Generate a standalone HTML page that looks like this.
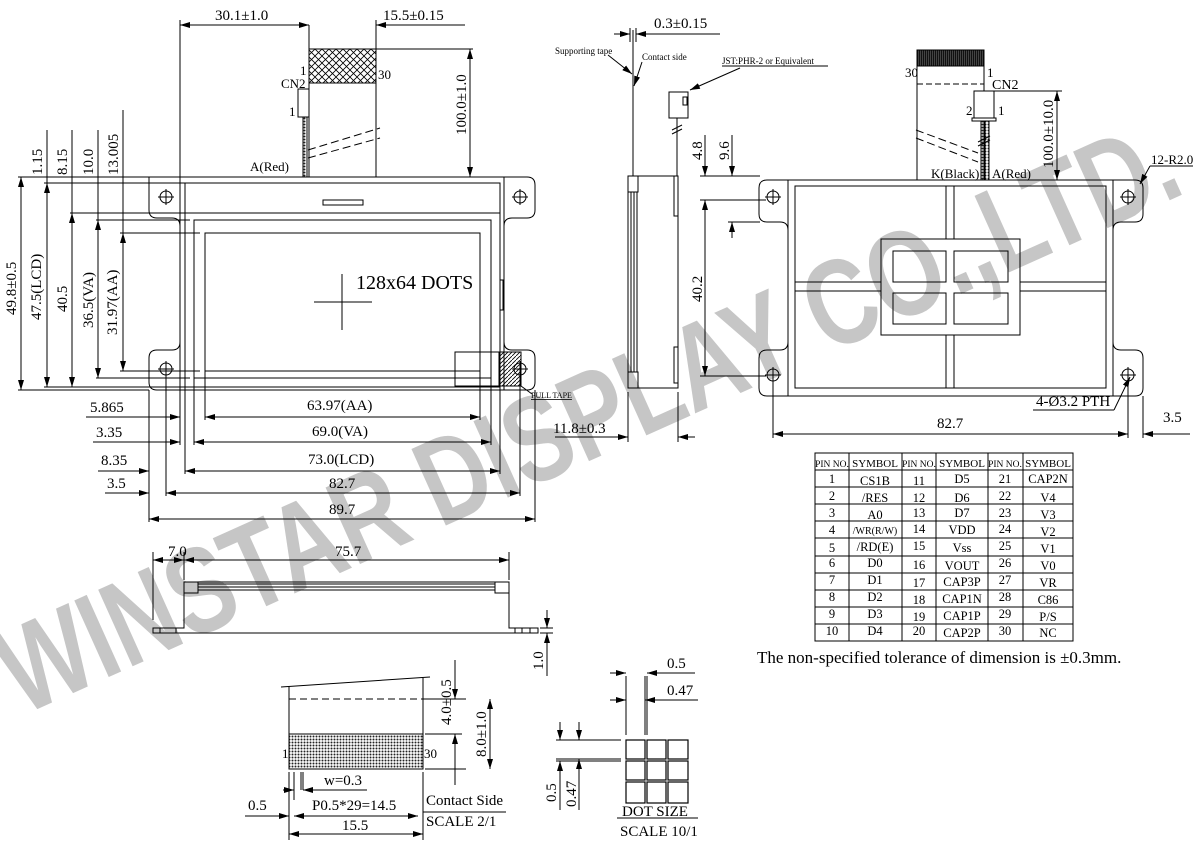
<!DOCTYPE html>
<html><head><meta charset="utf-8"><style>
html,body{margin:0;padding:0;background:#fff}
svg{display:block}
text{font-family:"Liberation Serif",serif;fill:#000}
</style></head><body>
<svg width="1200" height="842" viewBox="0 0 1200 842" xmlns="http://www.w3.org/2000/svg">
<defs>
<pattern id="xh" width="7" height="7" patternUnits="userSpaceOnUse"><path d="M0 0L7 7M7 0L0 7" stroke="#000" stroke-width="0.8"/></pattern>
<pattern id="dh" width="4" height="4" patternUnits="userSpaceOnUse"><path d="M0 4L4 0" stroke="#000" stroke-width="0.8"/></pattern>
<pattern id="fine" width="3" height="3" patternUnits="userSpaceOnUse"><rect width="3" height="3" fill="#fff"/><circle cx="1.5" cy="1.5" r="1" fill="#222"/></pattern>
<pattern id="blk" width="2" height="4" patternUnits="userSpaceOnUse"><rect width="2" height="4" fill="#111"/><rect width="0.6" height="4" fill="#666"/></pattern>
<marker id="a" viewBox="0 0 10 6" refX="10" refY="3" markerWidth="10" markerHeight="6" orient="auto-start-reverse" markerUnits="userSpaceOnUse"><path d="M0 0L10 3L0 6z" fill="#000"/></marker>
</defs>

<!-- watermark -->
<text x="22" y="716" transform="rotate(-24.2 22 716)" font-weight="bold" font-size="122" textLength="1278" lengthAdjust="spacingAndGlyphs" style="fill:#c6c6c6;font-family:'Liberation Sans',sans-serif">WINSTAR DISPLAY CO.,LTD.</text>

<g fill="none" stroke="#000" stroke-width="1">
<!-- ===== FRONT VIEW ===== -->
<path d="M180 177H149Q149 177 149 185V210Q149 218 157 218H172Q180 218 180 226V342Q180 350 172 350H157Q149 350 149 358V382Q149 390 157 390H180"/>
<path d="M504 177H527Q535 177 535 185V210Q535 218 527 218H512Q504 218 504 226V342Q504 350 512 350H527Q535 350 535 358V382Q535 390 527 390H504"/>
<rect x="180" y="177" width="324" height="213"/>
<rect x="185" y="183" width="315" height="204"/>
<line x1="185" y1="213" x2="500" y2="213"/>
<rect x="194" y="220" width="297" height="158"/>
<rect x="205" y="233" width="275" height="138"/>
<rect x="323" y="200" width="40" height="5"/>
<line x1="342" y1="274" x2="342" y2="330"/><line x1="314" y1="302" x2="372" y2="302"/>
<rect x="455" y="352" width="44" height="34"/>
<rect x="499" y="352" width="22" height="34" fill="url(#dh)"/>
<line x1="521" y1="386" x2="532" y2="394"/>
<path d="M500 280h3v30h-3"/>
<g><circle cx="166" cy="197" r="6"/><line x1="158" y1="197" x2="174" y2="197"/><line x1="166" y1="189" x2="166" y2="205"/>
<circle cx="520" cy="197" r="6"/><line x1="512" y1="197" x2="528" y2="197"/><line x1="520" y1="189" x2="520" y2="205"/>
<circle cx="166" cy="369" r="6"/><line x1="158" y1="369" x2="174" y2="369"/><line x1="166" y1="361" x2="166" y2="377"/>
<circle cx="520" cy="369" r="6"/><line x1="512" y1="369" x2="528" y2="369"/><line x1="520" y1="361" x2="520" y2="377"/></g>
<!-- FPC -->
<rect x="309" y="49" width="67" height="34" fill="url(#xh)"/>
<line x1="309" y1="25" x2="309" y2="49"/><line x1="376" y1="20" x2="376" y2="49"/>
<line x1="309" y1="83" x2="309" y2="177"/><line x1="376" y1="83" x2="376" y2="177"/>
<rect x="298" y="89" width="11" height="28"/>
<rect x="303" y="117" width="4" height="60" fill="url(#fine)"/>
<path d="M308 150L380 128M308 158L380 138" stroke-dasharray="8 4"/>
<line x1="376" y1="49" x2="473" y2="49"/>
<line x1="180" y1="20" x2="180" y2="177"/>
<line x1="180" y1="25" x2="309" y2="25" marker-start="url(#a)" marker-end="url(#a)"/>
<line x1="376" y1="25" x2="465" y2="25" marker-start="url(#a)"/>
<line x1="470" y1="49" x2="470" y2="177" marker-start="url(#a)" marker-end="url(#a)"/>
<!-- left vertical dims -->
<line x1="18" y1="177" x2="180" y2="177"/><line x1="18" y1="390" x2="149" y2="390"/>
<line x1="21" y1="177" x2="21" y2="390" marker-start="url(#a)" marker-end="url(#a)"/>
<line x1="44" y1="183" x2="185" y2="183"/><line x1="44" y1="387" x2="185" y2="387"/>
<line x1="47" y1="130" x2="47" y2="387" marker-end="url(#a)"/>
<line x1="47" y1="183" x2="47" y2="387" marker-start="url(#a)"/>
<line x1="70" y1="213" x2="190" y2="213"/>
<line x1="72" y1="130" x2="72" y2="387" marker-end="url(#a)"/>
<line x1="72" y1="213" x2="72" y2="387" marker-start="url(#a)"/>
<line x1="96" y1="220" x2="190" y2="220"/><line x1="96" y1="378" x2="190" y2="378"/>
<line x1="98" y1="130" x2="98" y2="378" marker-end="url(#a)"/>
<line x1="98" y1="220" x2="98" y2="378" marker-start="url(#a)"/>
<line x1="120" y1="233" x2="200" y2="233"/><line x1="120" y1="371" x2="200" y2="371"/>
<line x1="123" y1="110" x2="123" y2="371" marker-end="url(#a)"/>
<line x1="123" y1="233" x2="123" y2="371" marker-start="url(#a)"/>
<!-- bottom horizontal dims -->
<line x1="205" y1="371" x2="205" y2="420"/><line x1="480" y1="371" x2="480" y2="420"/>
<line x1="194" y1="378" x2="194" y2="445"/><line x1="491" y1="378" x2="491" y2="445"/>
<line x1="185" y1="387" x2="185" y2="474"/><line x1="500" y1="387" x2="500" y2="474"/>
<line x1="166" y1="375" x2="166" y2="496"/><line x1="520" y1="375" x2="520" y2="496"/>
<line x1="149" y1="390" x2="149" y2="522"/><line x1="535" y1="390" x2="535" y2="522"/>
<line x1="180" y1="390" x2="180" y2="445"/>
<line x1="86" y1="417" x2="180" y2="417" marker-end="url(#a)"/><line x1="205" y1="417" x2="480" y2="417" marker-start="url(#a)" marker-end="url(#a)"/>
<line x1="93" y1="442" x2="180" y2="442" marker-end="url(#a)"/><line x1="194" y1="442" x2="491" y2="442" marker-start="url(#a)" marker-end="url(#a)"/>
<line x1="98" y1="471" x2="149" y2="471" marker-end="url(#a)"/><line x1="185" y1="471" x2="500" y2="471" marker-start="url(#a)" marker-end="url(#a)"/>
<line x1="105" y1="493" x2="149" y2="493" marker-end="url(#a)"/><line x1="166" y1="493" x2="520" y2="493" marker-start="url(#a)" marker-end="url(#a)"/>
<line x1="149" y1="519" x2="535" y2="519" marker-start="url(#a)" marker-end="url(#a)"/>

<!-- ===== SIDE VIEW ===== -->
<line x1="633" y1="30" x2="633" y2="176"/>
<line x1="614" y1="34" x2="630" y2="34" marker-end="url(#a)"/><line x1="636" y1="34" x2="720" y2="34" marker-start="url(#a)"/>
<line x1="630" y1="28" x2="630" y2="42"/><line x1="636" y1="28" x2="636" y2="42"/>
<line x1="608" y1="55" x2="632" y2="74" marker-end="url(#a)"/>
<line x1="642" y1="62" x2="634" y2="86" marker-end="url(#a)"/>
<rect x="628" y="176" width="50" height="212"/>
<rect x="628" y="176" width="10" height="16"/><rect x="628" y="372" width="10" height="16"/>
<line x1="631" y1="192" x2="631" y2="372"/><line x1="634" y1="192" x2="634" y2="372"/><line x1="637" y1="192" x2="637" y2="372"/>
<rect x="674" y="176" width="4" height="40"/><rect x="674" y="347" width="4" height="36"/>
<rect x="669" y="92" width="19" height="26"/><rect x="683" y="97" width="4" height="8"/>
<line x1="677" y1="118" x2="677" y2="176"/><path d="M672 130l10-5M672 134l10-5"/>
<line x1="740" y1="68" x2="690" y2="90" marker-end="url(#a)"/>
<line x1="722" y1="66" x2="828" y2="66"/>
<line x1="628" y1="392" x2="628" y2="442"/><line x1="678" y1="392" x2="678" y2="442"/>
<line x1="555" y1="437" x2="628" y2="437" marker-end="url(#a)"/><line x1="678" y1="437" x2="695" y2="437" marker-start="url(#a)"/>
<line x1="705" y1="135" x2="705" y2="176" marker-end="url(#a)"/>
<line x1="705" y1="200" x2="705" y2="376" marker-start="url(#a)" marker-end="url(#a)"/>
<line x1="732" y1="135" x2="732" y2="176" marker-end="url(#a)"/>
<line x1="732" y1="222" x2="732" y2="238" marker-start="url(#a)"/>
<line x1="700" y1="176" x2="760" y2="176"/><line x1="700" y1="200" x2="766" y2="200"/><line x1="728" y1="222" x2="760" y2="222"/><line x1="700" y1="376" x2="766" y2="376"/>

<!-- ===== BACK VIEW ===== -->
<path d="M788 180H767Q759 180 759 188V214Q759 222 767 222H780Q788 222 788 230V342Q788 350 780 350H767Q759 350 759 358V388Q759 396 767 396H788"/>
<path d="M1113 180H1135Q1143 180 1143 188V214Q1143 222 1135 222H1121Q1113 222 1113 230V342Q1113 350 1121 350H1135Q1143 350 1143 358V388Q1143 396 1135 396H1113"/>
<rect x="788" y="180" width="325" height="216"/>
<rect x="795" y="186" width="311" height="202"/>
<path d="M946 186V239M954 186V239M946 335V388M954 335V388M795 282H881M795 291H881M1020 282H1106M1020 291H1106"/>
<rect x="881" y="239" width="139" height="96"/>
<rect x="893" y="251" width="53" height="31"/><rect x="954" y="251" width="54" height="31"/>
<rect x="893" y="293" width="53" height="31"/><rect x="954" y="293" width="54" height="31"/>
<g><circle cx="773" cy="197" r="6"/><line x1="765" y1="197" x2="781" y2="197"/><line x1="773" y1="189" x2="773" y2="205"/>
<circle cx="1128" cy="197" r="6"/><line x1="1120" y1="197" x2="1136" y2="197"/><line x1="1128" y1="189" x2="1128" y2="205"/>
<circle cx="773" cy="375" r="6"/><line x1="765" y1="375" x2="781" y2="375"/><line x1="773" y1="367" x2="773" y2="383"/>
<circle cx="1128" cy="375" r="6"/><line x1="1120" y1="375" x2="1136" y2="375"/><line x1="1128" y1="367" x2="1128" y2="383"/></g>
<rect x="917" y="50" width="67" height="16" fill="url(#blk)"/>
<line x1="917" y1="66" x2="917" y2="180"/><line x1="984" y1="66" x2="984" y2="91"/>
<line x1="917" y1="84" x2="984" y2="84" stroke-dasharray="6 3"/>
<rect x="974" y="91" width="20" height="27"/><path d="M972 118h24v3h-24z"/>
<rect x="981" y="121" width="3" height="59" fill="url(#fine)"/><rect x="985" y="121" width="4" height="59" fill="url(#fine)"/>
<path d="M978 142l12-6M978 146l12-6"/>
<path d="M916 130L978 153M916 138L978 162" stroke-dasharray="8 4"/>
<line x1="994" y1="91" x2="1062" y2="91"/>
<line x1="1057" y1="91" x2="1057" y2="180" marker-start="url(#a)" marker-end="url(#a)"/>
<line x1="1150" y1="166" x2="1193" y2="166"/><line x1="1150" y1="166" x2="1140" y2="184" marker-end="url(#a)"/>
<line x1="773" y1="383" x2="773" y2="438"/><line x1="1128" y1="383" x2="1128" y2="438"/><line x1="1143" y1="396" x2="1143" y2="438"/>
<line x1="773" y1="434" x2="1128" y2="434" marker-start="url(#a)" marker-end="url(#a)"/>
<line x1="1143" y1="434" x2="1190" y2="434" marker-start="url(#a)"/>
<line x1="1033" y1="410" x2="1114" y2="410"/><line x1="1114" y1="410" x2="1130" y2="377" marker-end="url(#a)"/>

<!-- ===== PIN TABLE ===== -->
<rect x="815" y="453" width="258" height="188"/>
<path d="M849 453V641M902 453V641M936 453V641M988 453V641M1023 453V641"/>
<path d="M815 470H1073M815 487H1073M815 504H1073M815 521H1073M815 538H1073M815 556H1073M815 573H1073M815 590H1073M815 607H1073M815 624H1073"/>

<!-- ===== BOTTOM SIDE VIEW ===== -->
<path d="M153 628H184V582H509V628H538V633H153Z"/>
<rect x="184" y="582" width="14" height="11"/><rect x="495" y="582" width="14" height="11"/>
<path d="M198 584H495M198 587H495M198 590H495"/>
<path d="M153 628v5M160 628v5M176 628v5M515 628v5M522 628v5M530 628v5"/>
<line x1="153" y1="552" x2="153" y2="620"/><line x1="184" y1="552" x2="184" y2="580"/><line x1="509" y1="552" x2="509" y2="580"/>
<line x1="153" y1="560" x2="184" y2="560" marker-start="url(#a)" marker-end="url(#a)"/>
<line x1="184" y1="560" x2="509" y2="560" marker-start="url(#a)" marker-end="url(#a)"/>
<line x1="547" y1="610" x2="547" y2="628" marker-end="url(#a)"/><line x1="547" y1="633" x2="547" y2="676" marker-start="url(#a)"/>
<line x1="540" y1="628" x2="553" y2="628"/><line x1="540" y1="633" x2="553" y2="633"/>

<!-- ===== FPC DETAIL ===== -->
<line x1="281" y1="687" x2="430" y2="677"/>
<line x1="289" y1="686" x2="289" y2="769"/><line x1="423" y1="678" x2="423" y2="769"/>
<line x1="289" y1="699" x2="423" y2="699" stroke-dasharray="7 4"/>
<line x1="423" y1="699" x2="466" y2="699"/>
<rect x="289" y="734" width="134" height="35" fill="url(#fine)"/>
<line x1="425" y1="734" x2="462" y2="734"/><line x1="425" y1="769" x2="466" y2="769"/>
<line x1="455" y1="660" x2="455" y2="699" marker-end="url(#a)"/><line x1="455" y1="734" x2="455" y2="785" marker-start="url(#a)"/>
<line x1="490" y1="699" x2="490" y2="769" marker-start="url(#a)" marker-end="url(#a)"/>
<line x1="289" y1="772" x2="289" y2="840"/><line x1="423" y1="772" x2="423" y2="840"/>
<line x1="294" y1="772" x2="294" y2="800"/><line x1="301" y1="772" x2="301" y2="790"/><line x1="303" y1="772" x2="303" y2="790"/>
<line x1="283" y1="790" x2="294" y2="790" marker-end="url(#a)"/><line x1="303" y1="790" x2="367" y2="790" marker-start="url(#a)"/>
<line x1="245" y1="816" x2="289" y2="816" marker-end="url(#a)"/><line x1="294" y1="816" x2="418" y2="816" marker-start="url(#a)" marker-end="url(#a)"/>
<line x1="289" y1="834" x2="423" y2="834" marker-start="url(#a)" marker-end="url(#a)"/>
<line x1="423" y1="812" x2="506" y2="812"/>

<!-- ===== DOT SIZE ===== -->
<g stroke-width="1.2"><rect x="626" y="740" width="19" height="19"/><rect x="647" y="740" width="19" height="19"/><rect x="668" y="740" width="20" height="19"/>
<rect x="626" y="761" width="19" height="19"/><rect x="647" y="761" width="19" height="19"/><rect x="668" y="761" width="20" height="19"/>
<rect x="626" y="782" width="19" height="21"/><rect x="647" y="782" width="19" height="21"/><rect x="668" y="782" width="20" height="21"/></g>
<line x1="626" y1="676" x2="626" y2="735"/><line x1="645" y1="676" x2="645" y2="735"/><line x1="647" y1="676" x2="647" y2="735"/>
<line x1="610" y1="673" x2="626" y2="673" marker-end="url(#a)"/><line x1="647" y1="673" x2="695" y2="673" marker-start="url(#a)"/>
<line x1="610" y1="700" x2="626" y2="700" marker-end="url(#a)"/><line x1="645" y1="700" x2="698" y2="700" marker-start="url(#a)"/>
<line x1="556" y1="740" x2="621" y2="740"/><line x1="556" y1="759" x2="621" y2="759"/><line x1="556" y1="761" x2="621" y2="761"/>
<line x1="560" y1="722" x2="560" y2="740" marker-end="url(#a)"/><line x1="560" y1="761" x2="560" y2="810" marker-start="url(#a)"/>
<line x1="579" y1="722" x2="579" y2="740" marker-end="url(#a)"/><line x1="579" y1="759" x2="579" y2="810" marker-start="url(#a)"/>
<line x1="617" y1="818" x2="698" y2="818"/>
</g>

<!-- ===== TEXT ===== -->
<g font-size="15">
<text x="215" y="20">30.1±1.0</text>
<text x="383" y="20">15.5±0.15</text>
<text transform="translate(466 135) rotate(-90)">100.0±1.0</text>
<text x="300" y="75" font-size="13">1</text><text x="378" y="79" font-size="13">30</text>
<text x="281" y="88" font-size="13">CN2</text><text x="289" y="116" font-size="13">1</text>
<text x="250" y="171" font-size="13">A(Red)</text>
<text transform="translate(42 175) rotate(-90)">1.15</text>
<text transform="translate(67 175) rotate(-90)">8.15</text>
<text transform="translate(93 175) rotate(-90)">10.0</text>
<text transform="translate(118 175) rotate(-90)">13.005</text>
<text transform="translate(16 315) rotate(-90)">49.8±0.5</text>
<text transform="translate(41 320) rotate(-90)">47.5(LCD)</text>
<text transform="translate(67 312) rotate(-90)">40.5</text>
<text transform="translate(93 328) rotate(-90)">36.5(VA)</text>
<text transform="translate(117 335) rotate(-90)">31.97(AA)</text>
<text x="356" y="289" font-size="20">128x64 DOTS</text>
<text x="531" y="398" font-size="8" text-decoration="underline">PULL TAPE</text>
<text x="90" y="412">5.865</text><text x="96" y="437">3.35</text>
<text x="101" y="465">8.35</text><text x="107" y="488">3.5</text>
<text x="307" y="410">63.97(AA)</text><text x="312" y="436">69.0(VA)</text>
<text x="308" y="464">73.0(LCD)</text><text x="329" y="488">82.7</text>
<text x="329" y="514">89.7</text>

<text x="654" y="28">0.3±0.15</text>
<text x="555" y="54" font-size="9">Supporting tape</text>
<text x="642" y="60" font-size="9">Contact side</text>
<text x="722" y="64" font-size="9">JST:PHR-2 or Equivalent</text>
<text transform="translate(702 160) rotate(-90)">4.8</text>
<text transform="translate(729 160) rotate(-90)">9.6</text>
<text transform="translate(702 302) rotate(-90)">40.2</text>
<text x="553" y="433">11.8±0.3</text>

<text x="905" y="77" font-size="13">30</text><text x="987" y="77" font-size="13">1</text>
<text x="992" y="89" font-size="14">CN2</text>
<text x="966" y="115" font-size="13">2</text><text x="998" y="115" font-size="13">1</text>
<text x="931" y="178" font-size="13">K(Black)</text><text x="992" y="178" font-size="13">A(Red)</text>
<text transform="translate(1053 168) rotate(-90)">100.0±10.0</text>
<text x="1151" y="164" font-size="13">12-R2.0</text>
<text x="1036" y="406">4-Ø3.2 PTH</text>
<text x="937" y="428">82.7</text><text x="1163" y="422">3.5</text>

<text x="168" y="556">7.0</text><text x="335" y="556">75.7</text>
<text transform="translate(543 670) rotate(-90)">1.0</text>
<text transform="translate(451 725) rotate(-90)">4.0±0.5</text>
<text transform="translate(486 757) rotate(-90)">8.0±1.0</text>
<text x="282" y="758" font-size="13">1</text><text x="424" y="758" font-size="13">30</text>
<text x="324" y="785">w=0.3</text>
<text x="312" y="810">P0.5*29=14.5</text>
<text x="248" y="810">0.5</text>
<text x="342" y="830">15.5</text>
<text x="426" y="805">Contact Side</text>
<text x="426" y="826">SCALE 2/1</text>

<text x="667" y="668">0.5</text><text x="667" y="695">0.47</text>
<text transform="translate(556 802) rotate(-90)">0.5</text>
<text transform="translate(576 807) rotate(-90)">0.47</text>
<text x="622" y="816">DOT SIZE</text>
<text x="620" y="836">SCALE 10/1</text>
</g>

<g font-size="11.5" text-anchor="middle">
<text x="832" y="467" font-size="9.5">PIN NO.</text><text x="875" y="467" font-size="11">SYMBOL</text>
<text x="919" y="467" font-size="9.5">PIN NO.</text><text x="962" y="467" font-size="11">SYMBOL</text>
<text x="1005" y="467" font-size="9.5">PIN NO.</text><text x="1048" y="467" font-size="11">SYMBOL</text>
<g font-size="12.5">
<text x="832" y="483">1</text><text x="875" y="485">CS1B</text><text x="919" y="485">11</text><text x="962" y="483">D5</text><text x="1005" y="483">21</text><text x="1048" y="483">CAP2N</text>
<text x="832" y="500">2</text><text x="875" y="502">/RES</text><text x="919" y="502">12</text><text x="962" y="502">D6</text><text x="1005" y="500">22</text><text x="1048" y="502">V4</text>
<text x="832" y="517">3</text><text x="875" y="519">A0</text><text x="919" y="517">13</text><text x="962" y="517">D7</text><text x="1005" y="517">23</text><text x="1048" y="519">V3</text>
<text x="832" y="534">4</text><text x="875" y="534" font-size="10">/WR(R/W)</text><text x="919" y="533">14</text><text x="962" y="534">VDD</text><text x="1005" y="533">24</text><text x="1048" y="536">V2</text>
<text x="832" y="552">5</text><text x="875" y="551">/RD(E)</text><text x="919" y="550">15</text><text x="962" y="552">Vss</text><text x="1005" y="550">25</text><text x="1048" y="553">V1</text>
<text x="832" y="567">6</text><text x="875" y="567">D0</text><text x="919" y="569">16</text><text x="962" y="570">VOUT</text><text x="1005" y="567">26</text><text x="1048" y="570">V0</text>
<text x="832" y="584">7</text><text x="875" y="584">D1</text><text x="919" y="587">17</text><text x="962" y="586">CAP3P</text><text x="1005" y="584">27</text><text x="1048" y="587">VR</text>
<text x="832" y="601">8</text><text x="875" y="601">D2</text><text x="919" y="604">18</text><text x="962" y="603">CAP1N</text><text x="1005" y="601">28</text><text x="1048" y="604">C86</text>
<text x="832" y="618">9</text><text x="875" y="618">D3</text><text x="919" y="621">19</text><text x="962" y="620">CAP1P</text><text x="1005" y="618">29</text><text x="1048" y="621">P/S</text>
<text x="832" y="635">10</text><text x="875" y="635">D4</text><text x="919" y="635">20</text><text x="962" y="637">CAP2P</text><text x="1005" y="635">30</text><text x="1048" y="637">NC</text>
</g></g>
<text x="757" y="663" font-size="17">The non-specified tolerance of dimension is ±0.3mm.</text>
</svg>
</body></html>
